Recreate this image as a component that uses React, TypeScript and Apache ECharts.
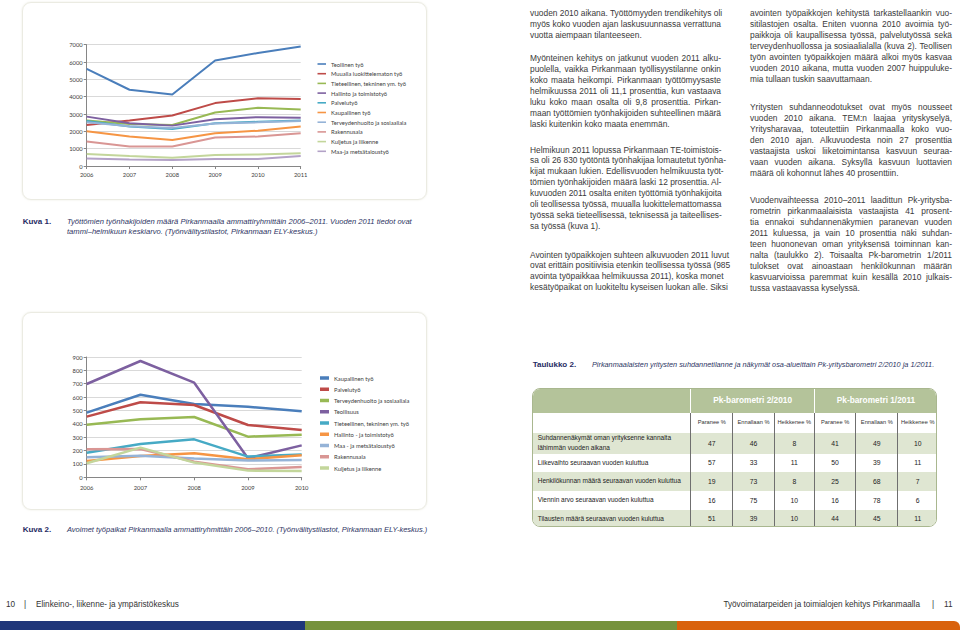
import React, { useEffect, useRef } from "react";
import * as echarts from "echarts";

// ---------- Chart 1 data (Kuva 1) ----------
const YEARS_1 = ["2006", "2007", "2008", "2009", "2010", "2011"];
const NAMES_1 = [
  "Teollinen työ",
  "Muualla luokittelematon työ",
  "Tieteellinen, tekninen ym. työ",
  "Hallinto ja toimistotyö",
  "Palvelutyö",
  "Kaupallinen työ",
  "Terveydenhuolto ja sosiaaliala",
  "Rakennusala",
  "Kuljetus ja liikenne",
  "Maa-ja metsätaloustyö",
];
const S1_TEOLLINEN = [5610, 4400, 4130, 6090, 6520, 6900];
const S1_MUUALLA = [2370, 2620, 2910, 3630, 3910, 3860];
const S1_TIETEELLINEN = [2620, 2420, 2370, 3090, 3360, 3260];
const S1_HALLINTO = [2850, 2470, 2330, 2700, 2820, 2780];
const S1_PALVELU = [2600, 2280, 2140, 2470, 2550, 2620];
const S1_KAUPALLINEN = [2000, 1700, 1500, 1890, 2040, 2280];
const S1_TERVEYS = [2520, 2300, 2200, 2450, 2520, 2600];
const S1_RAKENNUS = [1410, 1120, 1120, 1640, 1700, 1890];
const S1_KULJETUS = [690, 580, 480, 640, 660, 730];
const S1_MAA = [440, 370, 350, 400, 400, 580];
const VALUES_1 = [
  S1_TEOLLINEN, S1_MUUALLA, S1_TIETEELLINEN, S1_HALLINTO, S1_PALVELU,
  S1_KAUPALLINEN, S1_TERVEYS, S1_RAKENNUS, S1_KULJETUS, S1_MAA,
];
const COLORS_1 = [
  "#4A7EBB", "#BE4B48", "#98B954", "#7D60A0", "#46AAC5",
  "#F69544", "#95B3D7", "#D99694", "#C3D69B", "#B3A2C7",
];

// ---------- Chart 2 data (Kuva 2) ----------
const YEARS_2 = ["2006", "2007", "2008", "2009", "2010"];
const NAMES_2 = [
  "Kaupallinen työ",
  "Palvelutyö",
  "Terveydenhuolto ja sosiaaliala",
  "Teollisuus",
  "Tieteellinen, tekninen ym. työ",
  "Hallinto - ja toimistotyö",
  "Maa - ja metsätaloustyö",
  "Rakennusala",
  "Kuljetus ja liikenne",
];
const S2_KAUPALLINEN = [484, 618, 548, 528, 494];
const S2_PALVELU = [454, 561, 541, 391, 354];
const S2_TERVEYS = [394, 434, 451, 304, 319];
const S2_TEOLLISUUS = [698, 870, 708, 142, 239];
const S2_TIETEELLINEN = [184, 249, 284, 155, 170];
const S2_HALLINTO = [122, 160, 180, 135, 165];
const S2_MAA = [150, 162, 140, 125, 130];
const S2_RAKENNUS = [209, 212, 117, 60, 77];
const S2_KULJETUS = [105, 222, 110, 50, 47];
const VALUES_2 = [
  S2_KAUPALLINEN, S2_PALVELU, S2_TERVEYS, S2_TEOLLISUUS, S2_TIETEELLINEN,
  S2_HALLINTO, S2_MAA, S2_RAKENNUS, S2_KULJETUS,
];
const COLORS_2 = [
  "#4A7EBB", "#BE4B48", "#98B954", "#7D60A0", "#46AAC5",
  "#F69544", "#95B3D7", "#D99694", "#C3D69B",
];

// ---------- Table data (Taulukko 2) ----------
const TABLE_GROUPS = ["Pk-barometri 2/2010", "Pk-barometri 1/2011"];
const TABLE_COLS = ["Paranee %", "Ennallaan %", "Heikkenee %"];
const TABLE_ROWS = [
  "Suhdannenäkymät oman yrityksenne kannalta\nlähimmän vuoden aikana",
  "Liikevaihto seuraavan vuoden kuluttua",
  "Henkilökunnan määrä seuraavan vuoden kuluttua",
  "Viennin arvo seuraavan vuoden kuluttua",
  "Tilausten määrä seuraavan vuoden kuluttua",
];
const TABLE_2010 = [
  [47, 46, 8],
  [57, 33, 11],
  [19, 73, 8],
  [16, 75, 10],
  [51, 39, 10],
];
const TABLE_2011 = [
  [41, 49, 10],
  [50, 39, 11],
  [25, 68, 7],
  [16, 78, 6],
  [44, 45, 11],
];

// ---------- Prose ----------
const COL1_PARAS = [
  [
    "vuoden 2010 aikana. Työttömyyden trendikehitys oli",
    "myös koko vuoden ajan laskusuunnassa verrattuna",
    "vuotta aiempaan tilanteeseen.",
  ],
  [
    "Myönteinen kehitys on jatkunut vuoden 2011 alku-",
    "puolella, vaikka Pirkanmaan työllisyystilanne onkin",
    "koko maata heikompi. Pirkanmaan työttömyysaste",
    "helmikuussa 2011 oli 11,1 prosenttia, kun vastaava",
    "luku koko maan osalta oli 9,8 prosenttia. Pirkan-",
    "maan työttömien työnhakijoiden suhteellinen määrä",
    "laski kuitenkin koko maata enemmän.",
  ],
  [
    "Helmikuun 2011 lopussa Pirkanmaan TE-toimistois-",
    "sa oli 26 830 työtöntä työnhakijaa lomautetut työnha-",
    "kijat mukaan lukien. Edellisvuoden helmikuusta työt-",
    "tömien työnhakijoiden määrä laski 12 prosenttia. Al-",
    "kuvuoden 2011 osalta eniten työttömiä työnhakijoita",
    "oli teollisessa työssä, muualla luokittelemattomassa",
    "työssä sekä tieteellisessä, teknisessä ja taiteellises-",
    "sa työssä (kuva 1).",
  ],
  [
    "Avointen työpaikkojen suhteen alkuvuoden 2011 luvut",
    "ovat erittäin positiivisia etenkin teollisessa työssä (985",
    "avointa työpaikkaa helmikuussa 2011), koska monet",
    "kesätyöpaikat on luokiteltu kyseisen luokan alle. Siksi",
  ],
];
const COL1_TOPS = [13.3, 58.3, 150, 255];
const COL1_LAST_FULL = [false, false, false, true];

const COL2_PARAS = [
  [
    "avointen työpaikkojen kehitystä tarkastellaankin vuo-",
    "sitilastojen osalta. Eniten vuonna 2010 avoimia työ-",
    "paikkoja oli kaupallisessa työssä, palvelutyössä sekä",
    "terveydenhuollossa ja sosiaalialalla (kuva 2). Teollisen",
    "työn avointen työpaikkojen määrä alkoi myös kasvaa",
    "vuoden 2010 aikana, mutta vuoden 2007 huippuluke-",
    "mia tullaan tuskin saavuttamaan.",
  ],
  [
    "Yritysten suhdanneodotukset ovat myös nousseet",
    "vuoden 2010 aikana. TEM:n laajaa yrityskyselyä,",
    "Yritysharavaa, toteutettiin Pirkanmaalla koko vuo-",
    "den 2010 ajan. Alkuvuodesta noin 27 prosenttia",
    "vastaajista uskoi liiketoimintansa kasvuun seuraa-",
    "vaan vuoden aikana. Syksyllä kasvuun luottavien",
    "määrä oli kohonnut lähes 40 prosenttiin.",
  ],
  [
    "Vuodenvaihteessa 2010–2011 laadittun Pk-yritysba-",
    "rometrin pirkanmaalaisista vastaajista 41 prosent-",
    "tia ennakoi suhdannenäkymien paranevan vuoden",
    "2011 kuluessa, ja vain 10 prosenttia näki suhdan-",
    "teen huononevan oman yrityksensä toiminnan kan-",
    "nalta (taulukko 2). Toisaalta Pk-barometrin 1/2011",
    "tulokset ovat ainoastaan henkilökunnan määrän",
    "kasvuarvioissa paremmat kuin kesällä 2010 julkais-",
    "tussa vastaavassa kyselyssä.",
  ],
];
const COL2_TOPS = [13.3, 107.3, 200.7];

const CAPTION_1 = [
  "Työttömien työnhakijoiden määrä Pirkanmaalla ammattiryhmittäin 2006–2011. Vuoden 2011 tiedot ovat",
  "tammi–helmikuun keskiarvo. (Työnvälitystilastot, Pirkanmaan ELY-keskus.)",
];
const CAPTION_2 =
  "Avoimet työpaikat Pirkanmaalla ammattiryhmittäin 2006–2010. (Työnvälitystilastot, Pirkanmaan ELY-keskus.)";
const CAPTION_T =
  "Pirkanmaalaisten yritysten suhdannetilanne ja näkymät osa-alueittain Pk-yritysbarometri 2/2010 ja 1/2011.";

const FONT = '"Liberation Sans", Arial, Helvetica, sans-serif';
const CHART_FONT = 'Lato, "Open Sans", sans-serif';
const LINE_H = 10.95;

function EChart({ option, style }: { option: any; style: React.CSSProperties }) {
  const ref = useRef<HTMLDivElement>(null);
  useEffect(() => {
    const chart = echarts.init(ref.current as HTMLDivElement, null, { renderer: "svg" });
    chart.setOption(option);
    return () => chart.dispose();
  }, []);
  return <div ref={ref} style={style} />;
}

function lineOption(cfg: {
  years: string[];
  names: string[];
  values: number[][];
  colors: string[];
  grid: any;
  max: number;
  interval: number;
  legend: any;
  lineWidth: number;
  xMargin: number;
}) {
  return {
    animation: false,
    textStyle: { fontFamily: CHART_FONT },
    grid: cfg.grid,
    legend: {
      orient: "vertical",
      icon: "rect",
      padding: 0,
      selectedMode: false,
      data: cfg.names,
      textStyle: { fontSize: 5.8, lineHeight: 7, color: "#404040", fontFamily: CHART_FONT },
      ...cfg.legend,
    },
    xAxis: {
      type: "category",
      data: cfg.years,
      boundaryGap: false,
      axisLine: { lineStyle: { color: "#868686", width: 1 } },
      axisTick: { show: true, length: 3, alignWithLabel: true, lineStyle: { color: "#868686" } },
      axisLabel: { fontSize: 5.8, color: "#404040", margin: cfg.xMargin },
    },
    yAxis: {
      type: "value",
      min: 0,
      max: cfg.max,
      interval: cfg.interval,
      axisLine: { show: true, lineStyle: { color: "#868686", width: 1 } },
      axisTick: { show: true, length: 3, lineStyle: { color: "#868686" } },
      splitLine: { lineStyle: { color: "#d9d9d9", width: 1 } },
      axisLabel: {
        fontSize: 5.8,
        color: "#404040",
        margin: 4,
        formatter: (v: number) => String(v),
      },
    },
    series: cfg.names.map((name, i) => ({
      name,
      type: "line",
      data: cfg.values[i],
      showSymbol: false,
      symbol: "none",
      itemStyle: { color: cfg.colors[i] },
      lineStyle: { color: cfg.colors[i], width: cfg.lineWidth },
    })),
  };
}

const option1 = lineOption({
  years: YEARS_1,
  names: NAMES_1,
  values: VALUES_1,
  colors: COLORS_1,
  grid: { left: 86.7, top: 44.7, width: 214, height: 121.3 },
  max: 7000,
  interval: 1000,
  legend: { left: 317.5, top: 60.5, itemWidth: 8.5, itemHeight: 1.6, itemGap: 2.7 },
  lineWidth: 2,
  xMargin: 5,
});

const CHART2_TOP = 320;
const option2 = lineOption({
  years: YEARS_2,
  names: NAMES_2,
  values: VALUES_2,
  colors: COLORS_2,
  grid: { left: 86.7, top: 357 - CHART2_TOP, width: 215, height: 120.3 },
  max: 900,
  interval: 100,
  legend: { left: 320, top: 54.5, itemWidth: 9, itemHeight: 3.5, itemGap: 4.25 },
  lineWidth: 2.5,
  xMargin: 7,
});

function ProseColumn({ paras, tops, left, width, lastFull }: any) {
  const out: any[] = [];
  paras.forEach((lines: string[], p: number) => {
    lines.forEach((t: string, i: number) => {
      const isLast = i === lines.length - 1 && !(lastFull && lastFull[p]);
      out.push(
        <div
          key={p + "-" + i}
          style={{
            position: "absolute",
            left,
            top: tops[p] + i * LINE_H - LINE_H / 2,
            width,
            height: LINE_H,
            lineHeight: LINE_H + "px",
            fontSize: 8.4,
            color: "#3a3a3a",
            whiteSpace: "nowrap",
            textAlign: isLast ? "left" : "justify",
            textAlignLast: isLast ? "left" : "justify",
          } as React.CSSProperties}
        >
          {t}
        </div>
      );
    });
  });
  return <>{out}</>;
}

function Txt({ x, y, children, style }: any) {
  return (
    <div
      style={{
        position: "absolute",
        left: x,
        top: y - 5,
        height: 10,
        lineHeight: "10px",
        whiteSpace: "nowrap",
        ...style,
      }}
    >
      {children}
    </div>
  );
}

function Table() {
  const L = 531.7;
  const T = 388.3;
  const W = 405;
  const colX = [0, 158.3, 200, 241.6, 281.6, 323.3, 365, 405];
  const rowY = [0, 23.7, 43.4, 64.4, 82.7, 101.7, 120.7, 139];
  const cells: any[] = [];
  TABLE_GROUPS.forEach((g, gi) => {
    const x0 = colX[1 + gi * 3];
    const x1 = colX[4 + gi * 3];
    cells.push(
      <div
        key={"g" + gi}
        style={{
          position: "absolute",
          left: x0,
          top: 0,
          width: x1 - x0,
          height: rowY[1],
          lineHeight: rowY[1] + "px",
          textAlign: "center",
          color: "#ffffff",
          fontWeight: "bold",
          fontSize: 8.3,
        }}
      >
        {g}
      </div>
    );
  });
  for (let g = 0; g < 2; g++) {
    TABLE_COLS.forEach((c, ci) => {
      const k = 1 + g * 3 + ci;
      cells.push(
        <div
          key={"c" + k}
          style={{
            position: "absolute",
            left: colX[k],
            top: rowY[1],
            width: colX[k + 1] - colX[k],
            height: rowY[2] - rowY[1],
            lineHeight: rowY[2] - rowY[1] + "px",
            textAlign: "center",
            color: "#333",
            fontSize: 5.7,
          }}
        >
          {c}
        </div>
      );
    });
  }
  TABLE_ROWS.forEach((label, r) => {
    const y0 = rowY[2 + r];
    const y1 = rowY[3 + r];
    const h = y1 - y0;
    cells.push(
      <div
        key={"bg" + r}
        style={{
          position: "absolute",
          left: 0,
          top: y0,
          width: W,
          height: h,
          background: r % 2 === 0 ? "#dfe6d2" : "#ffffff",
        }}
      />
    );
    cells.push(
      <div
        key={"l" + r}
        style={{
          position: "absolute",
          left: 5,
          top: y0,
          width: colX[1] - 6,
          height: h,
          display: "flex",
          alignItems: "center",
          whiteSpace: "pre-line",
          lineHeight: "10px",
          color: "#222",
          fontSize: 6.5,
        }}
      >
        {label}
      </div>
    );
    const vals = [...TABLE_2010[r], ...TABLE_2011[r]];
    vals.forEach((v, vi) => {
      const k = 1 + vi;
      cells.push(
        <div
          key={"v" + r + "-" + vi}
          style={{
            position: "absolute",
            left: colX[k],
            top: y0,
            width: colX[k + 1] - colX[k],
            height: h,
            lineHeight: h + "px",
            textAlign: "center",
            color: "#222",
            fontSize: 6.8,
          }}
        >
          {v}
        </div>
      );
    });
  });
  for (let k = 1; k < 7; k++) {
    cells.push(
      <div
        key={"s" + k}
        style={{
          position: "absolute",
          left: colX[k] - 0.5,
          top: rowY[1],
          width: 1,
          height: rowY[7] - rowY[1],
          background: "#6f6f6f",
        }}
      />
    );
  }
  [1, 4].forEach((k) =>
    cells.push(
      <div
        key={"hs" + k}
        style={{
          position: "absolute",
          left: colX[k] - 0.5,
          top: 0,
          width: 1,
          height: rowY[1],
          background: "#ffffff",
        }}
      />
    )
  );
  return (
    <div
      style={{
        position: "absolute",
        left: L,
        top: T,
        width: W,
        height: rowY[7],
        boxSizing: "border-box",
        border: "1px solid #a9b78f",
        borderRadius: 8,
        overflow: "hidden",
        background: "#ffffff",
      }}
    >
      <div style={{ position: "absolute", left: 0, top: 0, width: W, height: rowY[1], background: "#b4c39a" }} />
      {cells}
    </div>
  );
}

export default function App() {
  const navy = "#1f2b63";
  const capColor = "#2e3564";
  return (
    <div
      style={{
        position: "absolute",
        left: 0,
        top: 0,
        width: 960,
        height: 630,
        overflow: "hidden",
        background: "#ffffff",
        fontFamily: FONT,
      }}
    >
      <div
        style={{
          position: "absolute",
          left: 22,
          top: 2,
          width: 405,
          height: 198,
          boxSizing: "border-box",
          border: "1px solid #ebebe2",
          borderRadius: 9,
          boxShadow: "0 0 2px rgba(215,215,195,0.6)",
        }}
      />
      <div
        style={{
          position: "absolute",
          left: 22,
          top: 312,
          width: 405,
          height: 198,
          boxSizing: "border-box",
          border: "1px solid #ebebe2",
          borderRadius: 9,
          boxShadow: "0 0 2px rgba(215,215,195,0.6)",
        }}
      />
      <EChart option={option1} style={{ position: "absolute", left: 0, top: 0, width: 430, height: 205 }} />
      <EChart
        option={option2}
        style={{ position: "absolute", left: 0, top: CHART2_TOP, width: 430, height: 195 }}
      />

      <Txt x={22.7} y={222} style={{ fontWeight: "bold", color: navy, fontSize: 8 }}>
        Kuva 1.
      </Txt>
      <Txt x={67} y={222} style={{ fontStyle: "italic", color: capColor, fontSize: 7.6 }}>
        {CAPTION_1[0]}
      </Txt>
      <Txt x={67} y={231.5} style={{ fontStyle: "italic", color: capColor, fontSize: 7.6 }}>
        {CAPTION_1[1]}
      </Txt>
      <Txt x={22.7} y={530} style={{ fontWeight: "bold", color: navy, fontSize: 8 }}>
        Kuva 2.
      </Txt>
      <Txt x={67} y={530} style={{ fontStyle: "italic", color: capColor, fontSize: 7.5 }}>
        {CAPTION_2}
      </Txt>
      <Txt x={532.7} y={365} style={{ fontWeight: "bold", color: navy, fontSize: 8 }}>
        Taulukko 2.
      </Txt>
      <Txt x={592} y={365} style={{ fontStyle: "italic", color: capColor, fontSize: 7.3 }}>
        {CAPTION_T}
      </Txt>

      <ProseColumn paras={COL1_PARAS} tops={COL1_TOPS} left={530} width={191} lastFull={COL1_LAST_FULL} />
      <ProseColumn paras={COL2_PARAS} tops={COL2_TOPS} left={750} width={202} />

      <Table />

      <Txt x={6} y={605} style={{ fontSize: 8.2, color: "#333" }}>
        10
      </Txt>
      <Txt x={24} y={605} style={{ fontSize: 8.2, color: "#333" }}>
        |
      </Txt>
      <Txt x={36} y={605} style={{ fontSize: 8.2, color: "#333" }}>
        Elinkeino-, liikenne- ja ympäristökeskus
      </Txt>
      <Txt x={716} y={605} style={{ fontSize: 8.2, color: "#333", width: 204, textAlign: "right" }}>
        Työvoimatarpeiden ja toimialojen kehitys Pirkanmaalla
      </Txt>
      <Txt x={932} y={605} style={{ fontSize: 8.2, color: "#333" }}>
        |
      </Txt>
      <Txt x={944} y={605} style={{ fontSize: 8.2, color: "#333" }}>
        11
      </Txt>
      <div style={{ position: "absolute", left: 0, top: 621, width: 305, height: 9, background: "#1f367a" }} />
      <div style={{ position: "absolute", left: 305, top: 621, width: 372, height: 9, background: "#76923c" }} />
      <div
        style={{
          position: "absolute",
          left: 677,
          top: 621,
          width: 283,
          height: 9,
          background: "#d9620c",
          borderTopRightRadius: 6,
        }}
      />
    </div>
  );
}
